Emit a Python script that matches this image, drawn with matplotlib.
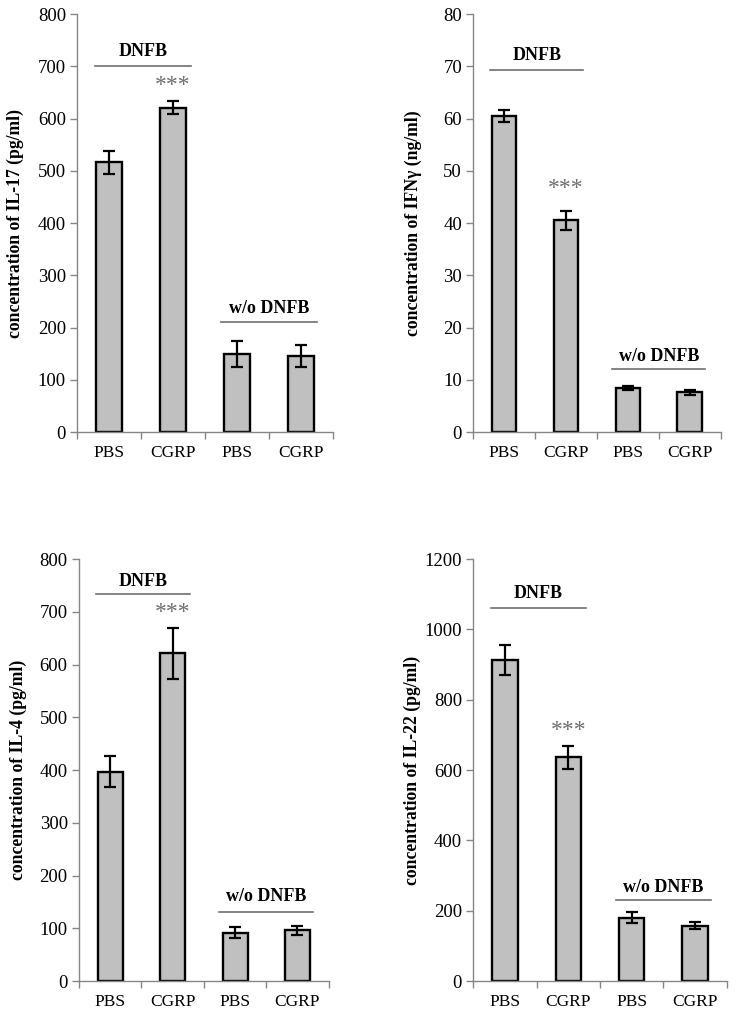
import matplotlib.pyplot as plt

plt.rcParams["font.family"] = ["Liberation Serif", "DejaVu Serif"]

categories = ["PBS", "CGRP", "PBS", "CGRP"]

il17_mean = [516, 621, 149, 146]
il17_err = [22, 13, 25, 21]

ifng_mean = [60.5, 40.5, 8.5, 7.6]
ifng_err = [1.1, 1.8, 0.4, 0.5]

il4_mean = [397, 621, 92, 96]
il4_err = [30, 49, 11, 8]

il22_mean = [913, 636, 180, 157]
il22_err = [43, 33, 16, 10]

panels = [
    # mean, err, ylabel, ymax, step, (dnfb line y, dnfb text y), star y, (w/o line y, w/o text y), axes rect
    (il17_mean, il17_err, "concentration of IL-17 (pg/ml)", 800, 100,
     (700, 728), 664, (211, 237), [0.1045, 0.5748, 0.347, 0.4114]),
    (ifng_mean, ifng_err, "concentration of IFN\u03b3 (ng/ml)", 80, 10,
     (69.3, 72), 46.7, (12.1, 14.4), [0.642, 0.5748, 0.336, 0.4114]),
    (il4_mean, il4_err, "concentration of IL-4 (pg/ml)", 800, 100,
     (733, 758), 698, (131, 160), [0.107, 0.0344, 0.339, 0.4154]),
    (il22_mean, il22_err, "concentration of IL-22 (pg/ml)", 1200, 200,
     (1062, 1101), 713, (230, 266), [0.642, 0.0344, 0.344, 0.4154]),
]

fig = plt.figure(figsize=(7.37, 10.16), dpi=100)

for mean, err, ylabel, ymax, step, dnfb, star_y, wo, rect in panels:
    ax = fig.add_axes(rect)
    x = range(len(categories))
    ax.bar(x, mean, width=0.4, color="#c0c0c0", edgecolor="black", linewidth=1.7,
           yerr=err, capsize=4,
           error_kw=dict(elinewidth=1.6, capthick=1.6, ecolor="black"))

    ax.set_xlim(-0.5, 3.5)
    ax.set_ylim(0, ymax)
    ax.set_yticks(range(0, ymax + 1, step))
    ax.set_xticks([-0.5, 0.5, 1.5, 2.5, 3.5])
    ax.set_xticklabels([])
    ax.set_xticks(list(x), minor=True)
    ax.set_xticklabels(categories, minor=True)
    ax.tick_params(axis="x", which="minor", length=0, labelsize=12.5, pad=9)
    ax.tick_params(axis="x", which="major", length=5, color="#868686", width=1)
    ax.tick_params(axis="y", length=5, color="#868686", width=1, labelsize=13.5, pad=3)

    for side in ["top", "right"]:
        ax.spines[side].set_visible(False)
    for side in ["left", "bottom"]:
        ax.spines[side].set_color("#868686")
        ax.spines[side].set_linewidth(1)

    ax.set_ylabel(ylabel, fontweight="bold", fontsize=12.7)
    ax.yaxis.set_label_coords(-0.207, 0.5)

    # group annotations
    ax.plot([-0.22, 1.28], [dnfb[0], dnfb[0]], color="#6e6e6e", linewidth=1.2, clip_on=False)
    ax.text(0.53, dnfb[1], "DNFB", ha="center", va="center", fontweight="bold", fontsize=13)
    ax.plot([1.75, 3.25], [wo[0], wo[0]], color="#6e6e6e", linewidth=1.2, clip_on=False)
    ax.text(2.5, wo[1], "w/o DNFB", ha="center", va="center", fontweight="bold", fontsize=13)
    ax.text(1, star_y, "***", ha="center", va="center", fontsize=17, color="#6e6e6e")

fig.savefig("out.png", dpi=100)
